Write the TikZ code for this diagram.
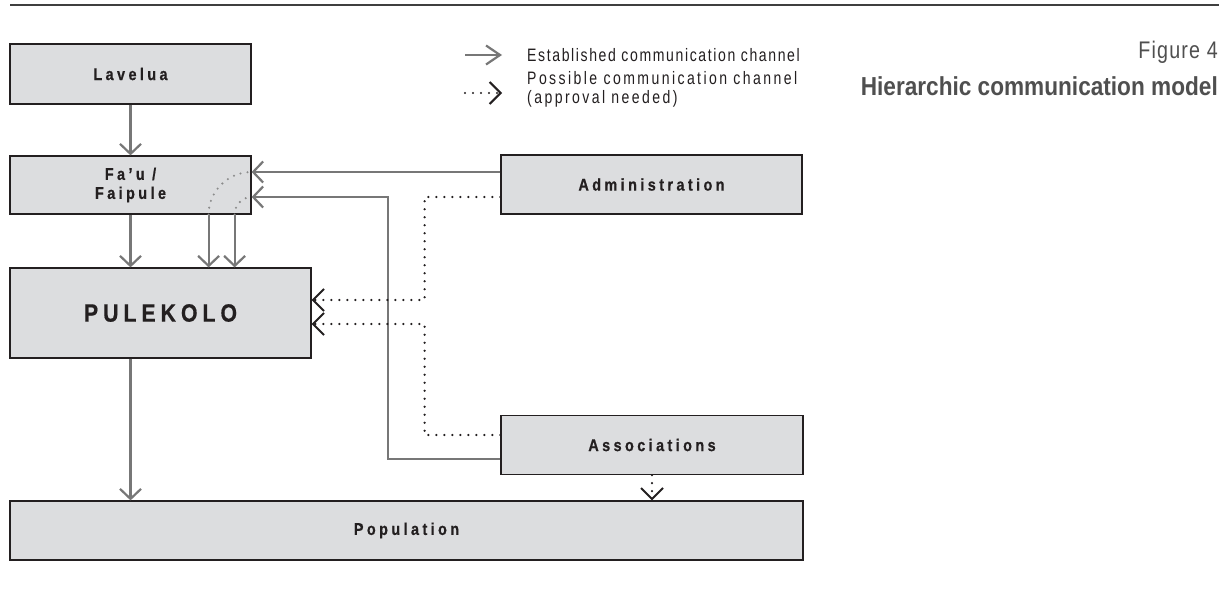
\documentclass[tikz,border=0pt]{standalone}
\usepackage{fontspec}
\setmainfont{Liberation Sans}
\newfontfamily\boxfont{Liberation Sans}[FakeStretch=0.85,LetterSpace=20,FakeBold=0.6]
\newfontfamily\legA{Liberation Sans}[FakeStretch=0.78,LetterSpace=9]
\newfontfamily\legB{Liberation Sans}[FakeStretch=0.78,LetterSpace=13.5]
\newfontfamily\titreg{Liberation Sans}[FakeStretch=0.82,LetterSpace=5]
\newfontfamily\titbold{Liberation Sans}[FakeStretch=0.87]
\usetikzlibrary{arrows.meta,calc}
\definecolor{boxfill}{HTML}{DCDDDF}
\definecolor{ink}{HTML}{231F20}
\definecolor{arrgray}{HTML}{777777}
\definecolor{rulegray}{HTML}{3F3F3F}
\definecolor{titgray}{HTML}{4F4F4F}
\begin{document}
\begin{tikzpicture}[x=1pt,y=-1pt,
 box/.style={draw=ink, line width=1.2pt, fill=boxfill, inner sep=0pt, text=ink,
   font=\boxfont\bfseries\fontsize{17}{19}\selectfont, align=center},
 estarrow/.style={draw=arrgray, line width=2.2pt, -{Straight Barb[length=10pt,width=21pt]}},
 possarrow/.style={draw=ink, line width=2.4pt, dash pattern=on 0pt off 8pt, line cap=round,
   -{Straight Barb[length=11pt,width=22pt,line width=2pt]}},
 arcdots/.style={draw=arrgray!85, line width=2.3pt, dash pattern=on 0pt off 7pt, line cap=round},
 legtxt/.style={anchor=west, inner sep=0pt, text=ink, align=left},
]
\useasboundingbox (0,0) rectangle (1223,594);
\fill[white] (0,0) rectangle (1223,594);

% top rule
\draw[rulegray, line width=2pt] (10,5) -- (1219,5);

% title
\node[anchor=east, inner sep=0pt, text=titgray, font=\titreg\fontsize{24}{28}\selectfont] (fig) at (1218,52) {Figure 4};
\node[anchor=east, inner sep=0pt, text=titgray, font=\titbold\bfseries\fontsize{26}{30}\selectfont] (ttl) at (1218,86) {Hierarchic communication model};

% legend
\node[legtxt, font=\legA\fontsize{18}{20}\selectfont] (leg1) at (527,55) {Established communication channel};
\node[legtxt, font=\legB\fontsize{18}{19}\selectfont] (leg2) at (527,89) {Possible communication channel\\(approval needed)};
\draw[draw=arrgray, line width=2.2pt, -{Straight Barb[length=14pt,width=19pt]}] ($(leg1.west)+(-62,0)$) -- ($(leg1.west)+(-25,0)$);
\draw[possarrow] ($(leg2.west)+(-62,4)$) -- ($(leg2.west)+(-25,4)$);

% boxes
\node[box, minimum width=241pt, minimum height=60pt] (lav) at (130.5,74) {Lavelua};
\node[box, minimum width=241pt, minimum height=58pt] (fau) at (130.5,185) {Fa’u /\\Faipule};
\node[box, minimum width=301pt, minimum height=90pt, font=\boxfont\bfseries\fontsize{25}{28}\selectfont] (pul) at (160.5,313) {PULEKOLO};
\node[box, minimum width=301pt, minimum height=59pt] (adm) at (651.5,184.5) {Administration};
\node[box, minimum width=302pt, minimum height=59pt] (aso) at (652,445) {Associations};
\node[box, minimum width=793pt, minimum height=59pt] (pop) at (406.5,530.5) {Population};

% coordinates
\coordinate (fb1) at ($(fau.south east)+(-43,0)$);
\coordinate (fb2) at ($(fau.south east)+(-17,0)$);
\coordinate (a1) at ($(adm.west)+(0,-12.5)$);
\coordinate (a2) at ($(adm.west)+(0,12.5)$);
\coordinate (f1) at (fau.east |- a1);
\coordinate (f2) at ($(fau.east)+(0,12)$);
\coordinate (s1) at ($(aso.west)+(0,14)$);
\coordinate (s2) at ($(aso.west)+(0,-10)$);
\coordinate (p1) at ($(pul.east)+(0,-13)$);
\coordinate (p2) at ($(pul.east)+(0,11)$);

% established channels
\draw[estarrow] (lav.south) -- (fau.north);
\draw[estarrow] (fau.south) -- (fau.south |- pul.north);
\draw[estarrow] (fb1) -- (fb1 |- pul.north);
\draw[estarrow] (fb2) -- (fb2 |- pul.north);
\draw[estarrow] (a1) -- (f1);
\draw[estarrow] (s1) -| ($(f2)+(136,0)$) -- (f2);
\draw[estarrow] (fau.south |- pul.south) -- (fau.south |- pop.north);

% pass-through arcs
\draw[arcdots] (fb1) .. controls +(0,-23.5) and +(-23.5,0) .. (f1);
\draw[arcdots] (fb2) .. controls +(0,-9.4) and +(-9.4,0) .. (f2);

% possible channels
\draw[possarrow] (a2) -| ($(p1)+(113,0)$) -- (p1);
\draw[possarrow] (s2) -| ($(p2)+(113,0)$) -- (p2);
\draw[possarrow] (aso.south) -- (aso.south |- pop.north);
\end{tikzpicture}
\end{document}
